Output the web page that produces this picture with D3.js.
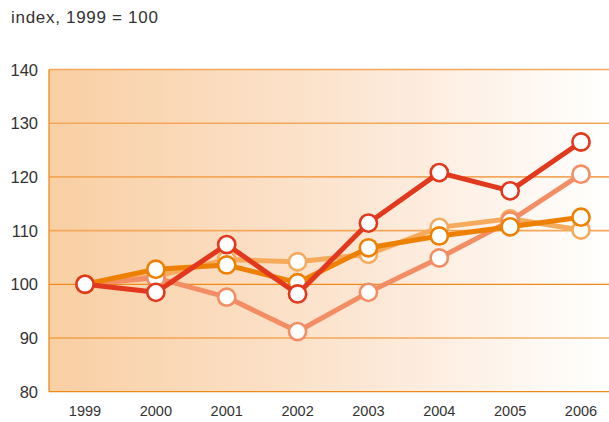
<!DOCTYPE html>
<html>
<head>
<meta charset="utf-8">
<script src="https://cdn.jsdelivr.net/npm/d3@7"></script>
<style>
  body{margin:0;background:#fff;}
  svg text{font-family:"Liberation Sans","DejaVu Sans",sans-serif;fill:#333;}
</style>
</head>
<body>
<svg id="chart" width="609" height="422"></svg>
<script>
// data
var years = ["1999","2000","2001","2002","2003","2004","2005","2006"];
var yTicks = [80, 90, 100, 110, 120, 130, 140];
var lightOrange = [100, 101.5, 104.6, 104.2, 105.6, 110.6, 112.2, 110.1];
var salmon      = [100, 101.2, 97.6, 91.2, 98.5, 104.9, 111.8, 120.5];
var darkOrange  = [100, 102.8, 103.6, 100.3, 106.8, 109.0, 110.7, 112.5];
var red         = [100, 98.5, 107.4, 98.2, 111.4, 120.8, 117.4, 126.5];

var series = [
  {name:"light", values:lightOrange, color:"#f6aa5c"},
  {name:"salmon", values:salmon, color:"#f28d64"},
  {name:"dark", values:darkOrange, color:"#ee8000"},
  {name:"red", values:red, color:"#e2381d"}
];

+function(){
  var svg = d3.select("#chart"),
      pLeft = 49, pRight = 609, pTop = 69.5, pBottom = 391.7;

  var x = d3.scalePoint().domain(years).range([85, 581]);
  var y = d3.scaleLinear().domain([80, 140]).range([pBottom, pTop]);

  // background gradient
  var grad = svg.append("defs").append("linearGradient").attr("id","bg")
      .attr("x1","0%").attr("x2","100%").attr("y1","0%").attr("y2","0%");
  grad.append("stop").attr("offset","0%").attr("stop-color","#f9cfa3");
  grad.append("stop").attr("offset","55%").attr("stop-color","#fce6d3");
  grad.append("stop").attr("offset","100%").attr("stop-color","#ffffff");

  svg.append("rect").attr("x",pLeft).attr("y",pTop)
     .attr("width",pRight-pLeft).attr("height",pBottom-pTop)
     .attr("fill","url(#bg)");

  // grid lines (upper ones lighter)
  svg.selectAll(".grid").data(yTicks).enter().append("line")
     .attr("class","grid")
     .attr("x1",pLeft).attr("x2",pRight)
     .attr("y1",function(d){ return y(d); }).attr("y2",function(d){ return y(d); })
     .attr("stroke",function(d){ return d > 100 ? "#f4a75b" : "#ee8a1c"; })
     .attr("stroke-width",function(d){ return d > 100 ? 1.6 : 1.2; });

  // left axis line
  svg.append("line").attr("x1",pLeft).attr("x2",pLeft).attr("y1",pTop).attr("y2",pBottom)
     .attr("stroke","#ee8a1c").attr("stroke-width",1.3);

  // y labels
  svg.selectAll(".ylab").data(yTicks).enter().append("text")
     .attr("class","ylab")
     .attr("x",38).attr("y",function(d){ return y(d) + 6; })
     .attr("text-anchor","end").attr("font-size",16.5)
     .text(function(d){ return d; });

  // x labels
  svg.selectAll(".xlab").data(years).enter().append("text")
     .attr("class","xlab")
     .attr("x",function(d){ return x(d); }).attr("y",416)
     .attr("text-anchor","middle").attr("font-size",14.5)
     .text(function(d){ return d; });

  // title
  svg.append("text").attr("x",11).attr("y",23).attr("font-size",17)
     .attr("letter-spacing",0.7)
     .text("index, 1999 = 100");

  var line = d3.line()
     .x(function(d,i){ return x(years[i]); })
     .y(function(d){ return y(d); });

  series.forEach(function(s){
    var g = svg.append("g").attr("class","series "+s.name);
    g.append("path").datum(s.values)
     .attr("d",line).attr("fill","none")
     .attr("stroke",s.color).attr("stroke-width",5)
     .attr("stroke-linejoin","round");
    g.selectAll("circle").data(s.values).enter().append("circle")
     .attr("cx",function(d,i){ return x(years[i]); })
     .attr("cy",function(d){ return y(d); })
     .attr("r",8.6)
     .attr("fill","#fff")
     .attr("stroke",s.color).attr("stroke-width",2.6);
  });
}();
</script>
</body>
</html>
